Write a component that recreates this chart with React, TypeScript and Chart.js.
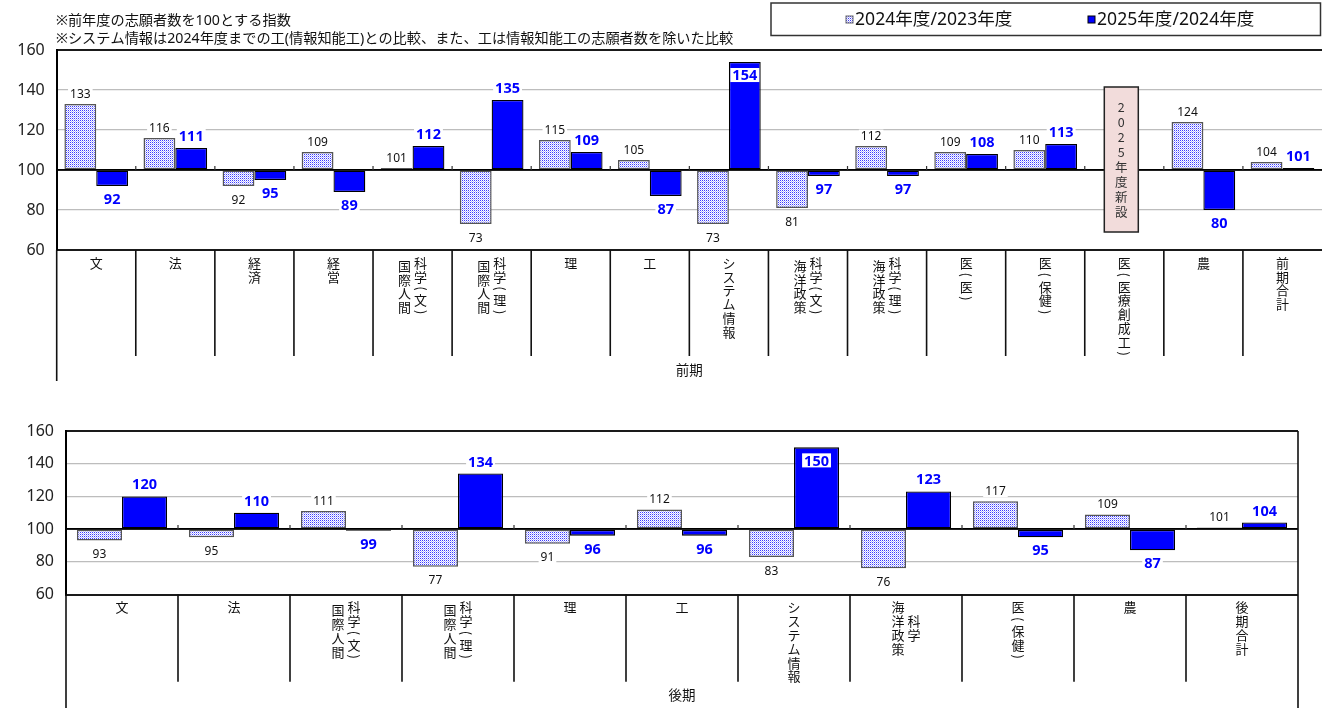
import React, { useEffect, useRef } from "react";
import { Chart, registerables } from "chart.js";

Chart.register(...registerables);

// ---------- data ----------
const NOTE_LINES: string[] = [
  "※前年度の志願者数を100とする指数",
  "※システム情報は2024年度までの工(情報知能工)との比較、また、工は情報知能工の志願者数を除いた比較",
];
const SERIES_NAMES: string[] = ["2024年度/2023年度", "2025年度/2024年度"];

const Y_MIN = 60;
const Y_MAX = 160;
const Y_STEP = 20;
const BASE_VALUE = 100;

const FRONT_TITLE = "前期";
const FRONT_CATEGORIES: string[][] = [
  ["文"],
  ["法"],
  ["経済"],
  ["経営"],
  ["国際人間", "科学(文)"],
  ["国際人間", "科学(理)"],
  ["理"],
  ["工"],
  ["システム情報"],
  ["海洋政策", "科学(文)"],
  ["海洋政策", "科学(理)"],
  ["医(医)"],
  ["医(保健)"],
  ["医(医療創成工)"],
  ["農"],
  ["前期合計"],
];
const FRONT_2024: (number | null)[] = [133, 116, 92, 109, 101, 73, 115, 105, 73, 81, 112, 109, 110, null, 124, 104];
const FRONT_2025: (number | null)[] = [92, 111, 95, 89, 112, 135, 109, 87, 154, 97, 97, 108, 113, null, 80, 101];
const FRONT_NEW_INDEX = 13;
const FRONT_NEW_TEXT = "2025年度新設";
const FRONT_NEW_RANGE: [number, number] = [141.5, 69];

const BACK_TITLE = "後期";
const BACK_CATEGORIES: string[][] = [
  ["文"],
  ["法"],
  ["国際人間", "科学(文)"],
  ["国際人間", "科学(理)"],
  ["理"],
  ["工"],
  ["システム情報"],
  ["海洋政策", "科学"],
  ["医(保健)"],
  ["農"],
  ["後期合計"],
];
const BACK_2024: (number | null)[] = [93, 95, 111, 77, 91, 112, 83, 76, 117, 109, 101];
const BACK_2025: (number | null)[] = [120, 110, 99, 134, 96, 96, 150, 123, 95, 87, 104];

// ---------- styling ----------
const NUM_FONT = "'Noto Sans', 'Noto Sans CJK JP', sans-serif";
const JP_FONT = "'Noto Sans CJK JP', 'Noto Sans', sans-serif";
const BLUE = "#0000ff";

interface NewNote {
  index: number;
  text: string;
  range: [number, number];
}
interface PanelCfg {
  categories: string[][];
  prev: (number | null)[];
  curr: (number | null)[];
  title: string;
  canvasHeight: number;
  padTop: number;
  padRight: number;
  yAxisWidth: number;
  xAxisHeight: number;
  tableBottom: number;
  leftLineEnd: number;
  rightLineEnd: number | null;
  titleY: number;
  header: boolean;
  newNote?: NewNote;
}

const FRONT_PANEL: PanelCfg = {
  categories: FRONT_CATEGORIES,
  prev: FRONT_2024,
  curr: FRONT_2025,
  title: FRONT_TITLE,
  canvasHeight: 390,
  padTop: 50,
  padRight: 0,
  yAxisWidth: 56.7,
  xAxisHeight: 140,
  tableBottom: 356,
  leftLineEnd: 381,
  rightLineEnd: null,
  titleY: 370,
  header: true,
  newNote: { index: FRONT_NEW_INDEX, text: FRONT_NEW_TEXT, range: FRONT_NEW_RANGE },
};

const BACK_PANEL: PanelCfg = {
  categories: BACK_CATEGORIES,
  prev: BACK_2024,
  curr: BACK_2025,
  title: BACK_TITLE,
  canvasHeight: 318,
  padTop: 41,
  padRight: 24,
  yAxisWidth: 66,
  xAxisHeight: 113.5,
  tableBottom: 291.7,
  leftLineEnd: 318,
  rightLineEnd: 318,
  titleY: 305,
  header: false,
};

function makeDotPattern(ctx: CanvasRenderingContext2D): CanvasPattern | string {
  const c = document.createElement("canvas");
  c.width = 2;
  c.height = 2;
  const g = c.getContext("2d");
  if (!g) return "#c0c0ff";
  g.fillStyle = "#ffffff";
  g.fillRect(0, 0, 2, 2);
  g.fillStyle = "#3a3aff";
  g.fillRect(0, 0, 1, 1);
  g.fillStyle = "#b8b8ff";
  g.fillRect(1, 1, 1, 1);
  return ctx.createPattern(c, "repeat") || "#c0c0ff";
}

const isParen = (ch: string) => ch === "(" || ch === ")";

function drawVertical(
  ctx: CanvasRenderingContext2D,
  cols: string[],
  cx: number,
  top: number,
  colGap: number,
  pitch: number
) {
  const adv = (ch: string) => (isParen(ch) ? pitch * 0.72 : pitch);
  const heights = cols.map((c) => Array.from(c).reduce((h, ch) => h + adv(ch), 0));
  const maxH = Math.max(...heights);
  const totalW = (cols.length - 1) * colGap;
  cols.forEach((col, i) => {
    const x = cx - totalW / 2 + i * colGap;
    let y = top + (maxH - heights[i]) / 2;
    for (const ch of Array.from(col)) {
      const a = adv(ch);
      const cy = y + a / 2;
      if (isParen(ch)) {
        ctx.save();
        ctx.translate(x, cy);
        ctx.rotate(Math.PI / 2);
        ctx.fillText(ch, 0, 0);
        ctx.restore();
      } else {
        ctx.fillText(ch, x, cy);
      }
      y += a;
    }
  });
}

function makePlugin(cfg: PanelCfg, pattern: CanvasPattern | string) {
  return {
    id: "panelDecor",
    afterDraw(chart: any) {
      const ctx: CanvasRenderingContext2D = chart.ctx;
      const a = chart.chartArea;
      const xs = chart.scales.x;
      const ys = chart.scales.y;
      const n = cfg.categories.length;
      const centers = cfg.categories.map((_, i) => xs.getPixelForValue(i));
      const half = n > 1 ? (centers[1] - centers[0]) / 2 : (a.right - a.left) / 2;
      const bounds: number[] = [];
      for (let i = 0; i <= n; i++) bounds.push(i < n ? centers[i] - half : centers[n - 1] + half);
      const y100 = ys.getPixelForValue(BASE_VALUE);

      ctx.save();

      // baseline at 100 + small tick marks
      ctx.strokeStyle = "#000";
      ctx.lineWidth = 1.5;
      ctx.beginPath();
      ctx.moveTo(a.left, y100);
      ctx.lineTo(a.right, y100);
      ctx.stroke();
      ctx.strokeStyle = "#333";
      ctx.lineWidth = 1.2;
      ctx.beginPath();
      for (let i = 1; i < n; i++) {
        ctx.moveTo(bounds[i], y100);
        ctx.lineTo(bounds[i], y100 - 4);
      }
      ctx.stroke();

      // category table lines
      ctx.strokeStyle = "#111";
      ctx.lineWidth = 1.6;
      ctx.beginPath();
      for (let i = 0; i <= n; i++) {
        if (i === n && cfg.rightLineEnd === null) continue;
        const end = i === 0 ? cfg.leftLineEnd : i === n ? (cfg.rightLineEnd as number) : cfg.tableBottom;
        const start = i === n ? a.top : a.bottom;
        ctx.moveTo(bounds[i], start);
        ctx.lineTo(bounds[i], end);
      }
      ctx.stroke();

      // category labels (vertical)
      ctx.fillStyle = "#111";
      ctx.font = `13px ${JP_FONT}`;
      ctx.textAlign = "center";
      ctx.textBaseline = "middle";
      cfg.categories.forEach((cols, i) => {
        drawVertical(ctx, cols, centers[i], a.bottom + 6, 16, 13.8);
      });

      // group title
      ctx.font = `13.5px ${JP_FONT}`;
      ctx.fillText(cfg.title, (a.left + a.right) / 2, cfg.titleY);

      // "new" annotation box
      if (cfg.newNote) {
        const nn = cfg.newNote;
        const cx = centers[nn.index] - 3;
        const yt = ys.getPixelForValue(nn.range[0]);
        const yb = ys.getPixelForValue(nn.range[1]);
        const w = 34;
        ctx.fillStyle = "#f2dcdb";
        ctx.fillRect(cx - w / 2, yt, w, yb - yt);
        ctx.strokeStyle = "#222";
        ctx.lineWidth = 1.5;
        ctx.strokeRect(cx - w / 2, yt, w, yb - yt);
        const chars = Array.from(nn.text);
        const pitch = 15;
        const start = (yt + yb) / 2 - (pitch * (chars.length - 1)) / 2;
        ctx.fillStyle = "#333";
        ctx.font = `12.5px ${JP_FONT}`;
        chars.forEach((ch, k) => ctx.fillText(ch, cx, start + k * pitch));
      }

      // value labels
      const series = [cfg.prev, cfg.curr];
      series.forEach((vals, d) => {
        const meta = chart.getDatasetMeta(d);
        const size = d === 0 ? 12 : 14.5;
        const capH = size * 0.72;
        ctx.font = d === 0 ? `${size}px ${NUM_FONT}` : `bold ${size}px ${NUM_FONT}`;
        ctx.textAlign = "center";
        ctx.textBaseline = "alphabetic";
        vals.forEach((v, i) => {
          if (v === null || v === undefined) return;
          const el = meta.data[i];
          if (!el) return;
          const topPx = Math.min(el.y, el.base);
          const botPx = Math.max(el.y, el.base);
          const txt = String(v);
          const tw = ctx.measureText(txt).width;
          let baseline: number;
          if (v >= BASE_VALUE) {
            baseline = topPx - (d === 0 ? 6 : 7);
            if (baseline - capH < a.top + 2) baseline = topPx + 6 + 1.8 + capH;
          } else {
            baseline = botPx + (d === 0 ? 9 : 7.5) + capH;
          }
          ctx.fillStyle = "#fff";
          ctx.fillRect(el.x - tw / 2 - 2, baseline - capH - 1.8, tw + 4, capH + 3.6);
          ctx.fillStyle = d === 0 ? "#111" : BLUE;
          ctx.fillText(txt, el.x, baseline);
        });
      });

      // header: notes and legend
      if (cfg.header) {
        ctx.textAlign = "left";
        ctx.textBaseline = "middle";
        ctx.fillStyle = "#111";
        ctx.font = `14.2px ${NUM_FONT}`;
        ctx.fillText(NOTE_LINES[0], 56, 21);
        ctx.fillText(NOTE_LINES[1], 56, 38.5);

        ctx.strokeStyle = "#333";
        ctx.lineWidth = 1.5;
        ctx.strokeRect(771, 3, 549.5, 32.5);
        const items = [
          { sx: 846, tx: 855, fill: pattern, border: "#666" },
          { sx: 1088, tx: 1097, fill: BLUE, border: "#000" },
        ];
        ctx.font = `17.6px ${NUM_FONT}`;
        items.forEach((it, k) => {
          ctx.fillStyle = it.fill as any;
          ctx.fillRect(it.sx, 16, 7, 7);
          ctx.strokeStyle = it.border;
          ctx.lineWidth = 1;
          ctx.strokeRect(it.sx, 16, 7, 7);
          ctx.fillStyle = "#111";
          ctx.fillText(SERIES_NAMES[k], it.tx, 19.5);
        });
      }

      ctx.restore();
    },
  };
}

function BarPanel({ cfg, top }: { cfg: PanelCfg; top: number }) {
  const ref = useRef<HTMLCanvasElement>(null);
  useEffect(() => {
    const canvas = ref.current;
    if (!canvas) return;
    const ctx = canvas.getContext("2d");
    if (!ctx) return;
    const pattern = makeDotPattern(ctx);
    const gridColor = (c: any) => {
      const v = c.tick && c.tick.value;
      if (v === Y_MIN || v === Y_MAX) return "#1a1a1a";
      if (v === BASE_VALUE) return "#000";
      return "#bdbdbd";
    };
    const gridWidth = (c: any) => {
      const v = c.tick && c.tick.value;
      if (v === Y_MIN || v === Y_MAX) return 2;
      if (v === BASE_VALUE) return 1.5;
      return 1.3;
    };
    const chart = new Chart(ctx, {
      type: "bar",
      data: {
        labels: cfg.categories.map((c) => c.join("")),
        datasets: [
          {
            label: SERIES_NAMES[0],
            data: cfg.prev as any,
            base: BASE_VALUE,
            backgroundColor: pattern as any,
            borderColor: "#555",
            borderWidth: 1.5,
            borderSkipped: false,
            categoryPercentage: 0.805,
            barPercentage: 1,
          } as any,
          {
            label: SERIES_NAMES[1],
            data: cfg.curr as any,
            base: BASE_VALUE,
            backgroundColor: BLUE,
            borderColor: "#000",
            borderWidth: 1.3,
            borderSkipped: false,
            categoryPercentage: 0.805,
            barPercentage: 1,
          } as any,
        ],
      },
      options: {
        animation: false,
        responsive: false,
        maintainAspectRatio: false,
        events: [],
        layout: { padding: { top: cfg.padTop, right: cfg.padRight, left: 0, bottom: 0 } },
        plugins: { legend: { display: false }, tooltip: { enabled: false } },
        scales: {
          x: {
            type: "category",
            offset: true,
            grid: { display: false, drawTicks: false },
            border: { display: false },
            ticks: { display: false },
            afterFit: (s: any) => {
              s.height = cfg.xAxisHeight;
            },
          },
          y: {
            min: Y_MIN,
            max: Y_MAX,
            ticks: {
              stepSize: Y_STEP,
              padding: 12,
              color: "#222",
              font: { family: NUM_FONT, size: 16 },
            },
            grid: { drawTicks: false, color: gridColor as any, lineWidth: gridWidth as any },
            border: { display: true, color: "#000", width: 2 },
            afterFit: (s: any) => {
              s.width = cfg.yAxisWidth;
            },
          },
        },
      } as any,
      plugins: [makePlugin(cfg, pattern) as any],
    });
    return () => chart.destroy();
  }, [cfg]);
  return (
    <canvas
      ref={ref}
      width={1322}
      height={cfg.canvasHeight}
      style={{ position: "absolute", left: 0, top, width: 1322, height: cfg.canvasHeight }}
    />
  );
}

export default function App() {
  return (
    <div
      style={{
        position: "fixed",
        left: 0,
        top: 0,
        width: 1322,
        height: 708,
        background: "#fff",
        overflow: "hidden",
      }}
    >
      <BarPanel cfg={FRONT_PANEL} top={0} />
      <BarPanel cfg={BACK_PANEL} top={390} />
    </div>
  );
}
